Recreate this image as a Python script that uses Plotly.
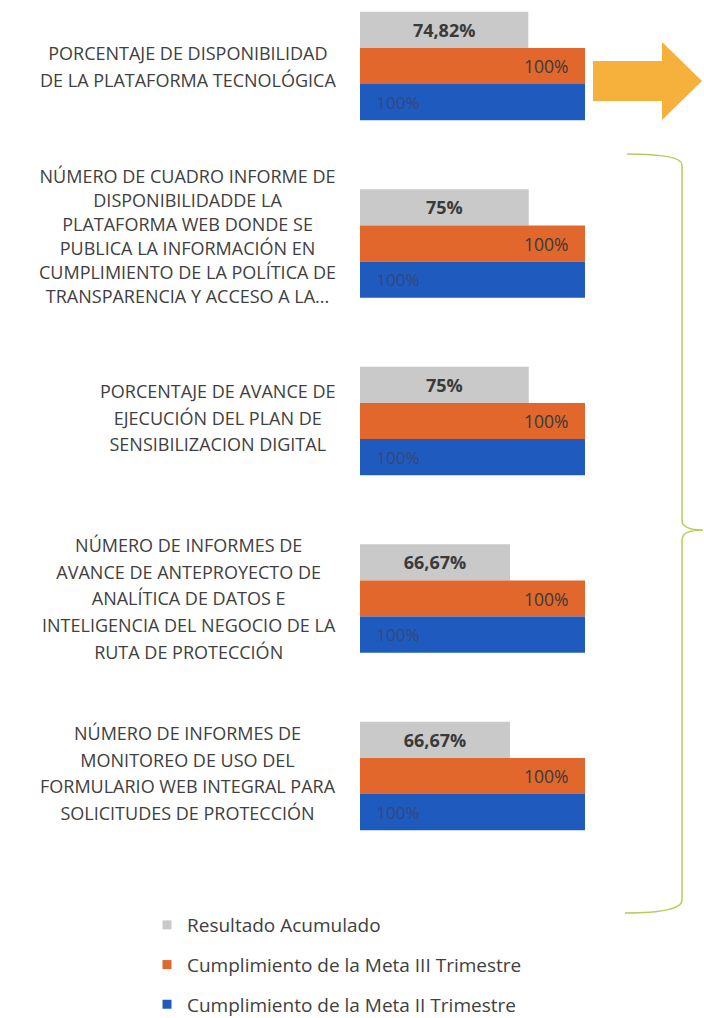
import plotly.graph_objects as go

categories = [
    "PORCENTAJE DE DISPONIBILIDAD<br>DE LA PLATAFORMA TECNOLÓGICA",
    "NÚMERO DE CUADRO INFORME DE<br>DISPONIBILIDADDE LA<br>PLATAFORMA WEB DONDE SE<br>PUBLICA LA INFORMACIÓN EN<br>CUMPLIMIENTO DE LA POLÍTICA DE<br>TRANSPARENCIA Y ACCESO A LA...",
    "PORCENTAJE DE AVANCE DE<br>EJECUCIÓN DEL PLAN DE<br>SENSIBILIZACION DIGITAL",
    "NÚMERO DE INFORMES DE<br>AVANCE DE ANTEPROYECTO DE<br>ANALÍTICA DE DATOS E<br>INTELIGENCIA DEL NEGOCIO DE LA<br>RUTA DE PROTECCIÓN",
    "NÚMERO DE INFORMES DE<br>MONITOREO DE USO DEL<br>FORMULARIO WEB INTEGRAL PARA<br>SOLICITUDES DE PROTECCIÓN",
]
series_names = [
    "Resultado Acumulado",
    "Cumplimiento de la Meta III Trimestre",
    "Cumplimiento de la Meta II Trimestre",
]
resultado_acumulado = [74.82, 75, 75, 66.67, 66.67]
meta_iii = [100, 100, 100, 100, 100]
meta_ii = [100, 100, 100, 100, 100]
resultado_labels = ["74,82%", "75%", "75%", "66,67%", "66,67%"]
meta_iii_labels = ["100%"] * 5
meta_ii_labels = ["100%"] * 5
colors = ["#C9C9C9", "#E2672C", "#1F5BBF"]

W, H = 704, 1018
ML, MR, MT = 360, 119, 0
PLOT_BOTTOM = 880
MB = H - PLOT_BOTTOM
PW, PH = W - ML - MR, PLOT_BOTTOM - MT

def px(x):
    return (x - ML) / PW

def py(y):
    return (PLOT_BOTTOM - y) / PH

pos = list(range(len(categories)))
FONT = "'Open Sans', sans-serif"
TXT = "#404040"
NB = "\u00a0"

fig = go.Figure()
fig.add_trace(go.Bar(
    y=pos, x=resultado_acumulado, orientation="h", name=series_names[0],
    marker=dict(color=colors[0], line=dict(width=0)), showlegend=False,
    text=resultado_labels, textposition="inside", insidetextanchor="middle",
    textangle=0, textfont=dict(family=FONT, size=18, color="#3a3a3a", weight="bold"),
))
fig.add_trace(go.Bar(
    y=pos, x=meta_iii, orientation="h", name=series_names[1],
    marker=dict(color=colors[1], line=dict(width=0)), showlegend=False,
    text=[t + NB * 3 for t in meta_iii_labels], textposition="inside", insidetextanchor="end",
    textangle=0, textfont=dict(family=FONT, size=17.5, color="#3a3a3a"),
))
fig.add_trace(go.Bar(
    y=pos, x=meta_ii, orientation="h", name=series_names[2],
    marker=dict(color=colors[2], line=dict(width=0)), showlegend=False,
    text=[NB * 3 + t for t in meta_ii_labels], textposition="inside", insidetextanchor="start",
    textangle=0, textfont=dict(family=FONT, size=17, color="#33477a"),
))

# legend entries (small square markers)
for name, c in zip(series_names, colors):
    fig.add_trace(go.Scatter(
        x=[None], y=[None], mode="markers", name=name, legendgroup=name,
        marker=dict(symbol="square", size=9, color=c),
    ))

# category labels (centered lines, box right-aligned at axis)
label_offsets = [0, -0.04, -0.02, 0, -0.015]
for i, lab in enumerate(categories):
    fig.add_annotation(
        x=px(338), xref="paper", y=i + label_offsets[i], yref="y",
        xanchor="right", yanchor="middle", align="center", showarrow=False,
        text=f"<span style='font-size:18px'>{lab}</span>",
        font=dict(family=FONT, size=20.5 if i != 1 else 18.5, color=TXT),
    )

# arrow
arrow = [(593, 61), (662, 61), (662, 42), (702, 81), (662, 120), (662, 101), (593, 101)]
path = "M " + " L ".join(f"{px(x)},{py(y)}" for x, y in arrow) + " Z"
fig.add_shape(type="path", xref="paper", yref="paper", path=path,
              fillcolor="#F5B13C", line=dict(width=0))

# brace
b = [
    f"M {px(627)},{py(154)}",
    f"Q {px(682)},{py(154)} {px(682)},{py(165)}",
    f"L {px(682)},{py(520)}",
    f"Q {px(682)},{py(530)} {px(703)},{py(530)}",
    f"Q {px(682)},{py(530)} {px(682)},{py(540)}",
    f"L {px(682)},{py(900)}",
    f"Q {px(682)},{py(913)} {px(625)},{py(913)}",
]
fig.add_shape(type="path", xref="paper", yref="paper", path=" ".join(b),
              line=dict(color="#B7CC5E", width=1.5))

fig.update_layout(
    width=W, height=H, margin=dict(l=ML, r=MR, t=MT, b=MB, autoexpand=False),
    paper_bgcolor="white", plot_bgcolor="white",
    barmode="group", bargap=0.39, bargroupgap=0,
    xaxis=dict(range=[0, 100], visible=False, fixedrange=True),
    yaxis=dict(range=[(PLOT_BOTTOM - 66) / 177.5, -66 / 177.5], visible=False),
    showlegend=True,
    legend=dict(x=px(147), y=py(906), xanchor="left", yanchor="top",
                orientation="v", traceorder="grouped",
                font=dict(family=FONT, size=19, color=TXT),
                tracegroupgap=12, bgcolor="rgba(0,0,0,0)"),
)

fig.write_html("out.html", config={"displayModeBar": False},
               post_script="document.body.style.margin='0';")
